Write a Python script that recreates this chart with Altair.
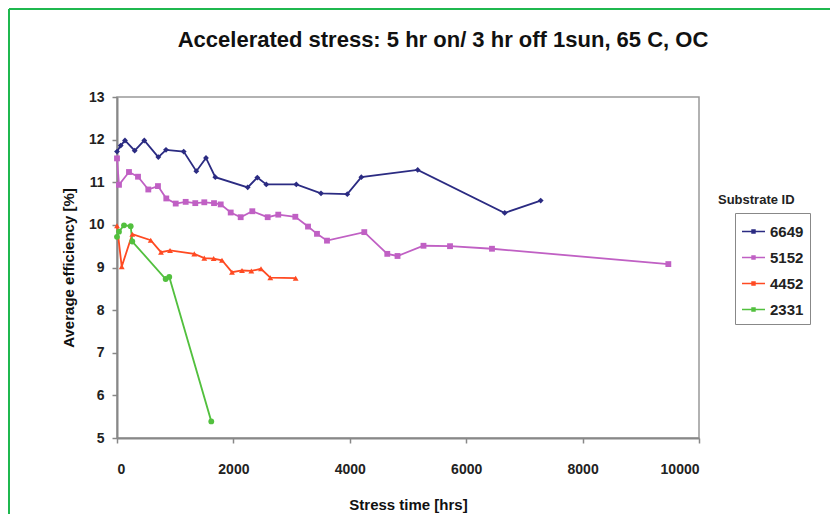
import altair as alt
import pandas as pd

# ---- data ----
series_ids = ["6649", "5152", "4452", "2331"]

hrs_6649 = [0, 64, 137, 304, 469, 710, 842, 1146, 1363, 1529, 1689, 2246, 2411, 2565, 3081, 3505, 3957, 4198, 5167, 6662, 7280]
eff_6649 = [11.72, 11.86, 11.98, 11.74, 11.98, 11.59, 11.76, 11.72, 11.26, 11.57, 11.12, 10.88, 11.11, 10.95, 10.95, 10.74, 10.72, 11.12, 11.29, 10.28, 10.57]

hrs_5152 = [0, 34, 206, 361, 538, 704, 847, 1009, 1180, 1345, 1500, 1667, 1782, 1954, 2125, 2325, 2589, 2771, 3064, 3282, 3436, 3608, 4249, 4644, 4820, 5266, 5722, 6443, 9473]
eff_5152 = [11.56, 10.94, 11.24, 11.13, 10.83, 10.91, 10.62, 10.50, 10.54, 10.51, 10.53, 10.51, 10.48, 10.29, 10.18, 10.32, 10.18, 10.24, 10.19, 9.96, 9.79, 9.63, 9.83, 9.32, 9.27, 9.51, 9.50, 9.44, 9.08]

hrs_4452 = [0, 81, 263, 579, 756, 911, 1328, 1500, 1661, 1804, 1976, 2148, 2308, 2474, 2634, 3070]
eff_4452 = [9.98, 9.02, 9.78, 9.64, 9.36, 9.40, 9.32, 9.22, 9.21, 9.17, 8.89, 8.93, 8.92, 8.97, 8.76, 8.75]

hrs_2331 = [0, 34, 120, 235, 263, 836, 898, 1620]
eff_2331 = [9.72, 9.84, 9.99, 9.97, 9.61, 8.73, 8.78, 5.39]

x_ticks = [0, 2000, 4000, 6000, 8000, 10000]
y_ticks = [5, 6, 7, 8, 9, 10, 11, 12, 13]

chart_title = "Accelerated stress: 5 hr on/ 3 hr off 1sun, 65 C, OC"
legend_title_text = "Substrate ID"

colors = ["#2b2b82", "#c060c4", "#ff4a22", "#52c03e"]
shapes = ["diamond", "square", "triangle-up", "circle"]

rows = []
for sid, hs, es in [("6649", hrs_6649, eff_6649), ("5152", hrs_5152, eff_5152),
                    ("4452", hrs_4452, eff_4452), ("2331", hrs_2331, eff_2331)]:
    for i, (h, e) in enumerate(zip(hs, es)):
        rows.append({"id": sid, "hrs": h, "eff": e, "idx": i})
df = pd.DataFrame(rows)

FONT = "Liberation Sans"

x_enc = alt.X("hrs:Q", title="Stress time [hrs]",
              scale=alt.Scale(domain=[0, 10000], nice=False),
              axis=alt.Axis(values=x_ticks, format="d", labelPadding=19, titlePadding=21))
y_enc = alt.Y("eff:Q", title="Average efficiency [%]",
              scale=alt.Scale(domain=[5, 13], nice=False, zero=False),
              axis=alt.Axis(values=y_ticks, labelPadding=8, titlePadding=12))

base = alt.Chart(df)

lines = base.mark_line(strokeWidth=1.8).encode(
    x=x_enc, y=y_enc,
    color=alt.Color("id:N", scale=alt.Scale(domain=series_ids, range=colors), sort=series_ids,
                    legend=alt.Legend(title=None, orient="none", legendX=618, legendY=116,
                                      symbolType="M-1,0H1M-0.12,-0.12H0.12V0.12H-0.12Z",
                                      symbolSize=529, symbolStrokeWidth=1.7,
                                      labelFont=FONT, labelFontSize=15, labelFontWeight="bold",
                                      labelColor="#222", labelOffset=4,
                                      rowPadding=5, padding=6, strokeColor="#888",
                                      fillColor="white")),
    order=alt.Order("idx:Q"),
)

point_layers = []
for sid, col, shp in zip(series_ids, colors, shapes):
    point_layers.append(
        base.transform_filter(alt.datum.id == sid)
        .mark_point(filled=True, size=34, opacity=1, shape=shp, color=col, strokeWidth=0)
        .encode(x="hrs:Q", y="eff:Q")
    )

title_text = alt.Chart(pd.DataFrame({"t": [chart_title]})).mark_text(
    font=FONT, fontSize=22, fontWeight="bold", align="center", baseline="middle", color="#111"
).encode(text="t:N", x=alt.value(326), y=alt.value(-57))

legend_title = alt.Chart(pd.DataFrame({"t": [legend_title_text]})).mark_text(
    font=FONT, fontSize=13, fontWeight="bold", align="left", baseline="middle", color="#222"
).encode(text="t:N", x=alt.value(601), y=alt.value(103))

border_top = alt.Chart(pd.DataFrame({"a": [0]})).mark_rule(color="#1fb84f", strokeWidth=2).encode(
    x=alt.value(-108), x2=alt.value(713), y=alt.value(-88))
border_left = alt.Chart(pd.DataFrame({"a": [0]})).mark_rule(color="#1fb84f", strokeWidth=2).encode(
    x=alt.value(-108), y=alt.value(-88), y2=alt.value(420))

chart = alt.layer(lines, *point_layers, title_text, legend_title, border_top, border_left).properties(
    width=582, height=341,
    autosize=alt.AutoSizeParams(type="none"),
    padding={"left": 109, "top": 89, "right": 131, "bottom": 76},
).configure_view(
    stroke="#999", strokeWidth=1.5
).configure_axis(
    grid=False, labelFont=FONT, labelFontSize=14, labelFontWeight="bold", labelColor="#222",
    titleFont=FONT, titleFontSize=15, titleFontWeight="bold", titleColor="#111",
    domainColor="#888", domainWidth=2, tickColor="#888", tickWidth=1.5, tickSize=5,
)

chart.save("out.html", embed_options={"renderer": "svg", "actions": False})
